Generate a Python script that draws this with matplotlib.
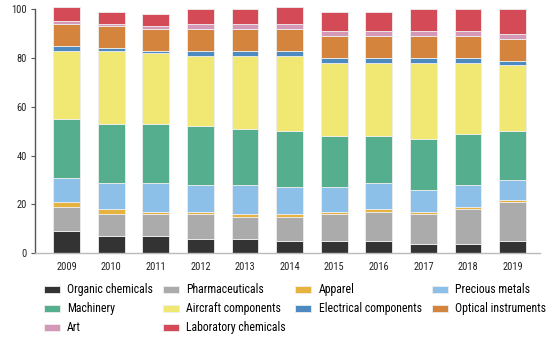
import matplotlib
matplotlib.use("Agg")
import matplotlib.pyplot as plt
import numpy as np
import logging

logging.getLogger("matplotlib.font_manager").setLevel(logging.ERROR)
plt.rcParams['font.family'] = ['Arial Narrow', 'Liberation Sans Narrow', 'Nimbus Sans Narrow',
                               'Roboto Condensed', 'Archivo Narrow', 'PT Sans Narrow',
                               'Liberation Sans', 'DejaVu Sans']

years = ["2009", "2010", "2011", "2012", "2013", "2014", "2015", "2016", "2017", "2018", "2019"]

organic_chemicals = [9, 7, 7, 6, 6, 5, 5, 5, 4, 4, 5]
pharmaceuticals = [10, 9, 9, 10, 9, 10, 11, 12, 12, 14, 16]
apparel = [2, 2, 1, 1, 1, 1, 1, 1, 1, 1, 1]
precious_metals = [10, 11, 12, 11, 12, 11, 10, 11, 9, 9, 8]
machinery = [24, 24, 24, 24, 23, 23, 21, 19, 21, 21, 20]
aircraft_components = [28, 30, 29, 29, 30, 31, 30, 30, 31, 29, 27]
electrical_components = [2, 1, 1, 2, 2, 2, 2, 2, 2, 2, 2]
optical_instruments = [9, 9, 9, 9, 9, 9, 9, 9, 9, 9, 9]
art = [1, 1, 1, 2, 2, 2, 2, 2, 2, 2, 2]
laboratory_chemicals = [6, 5, 5, 6, 6, 7, 8, 8, 9, 9, 10]

series = [
    ("Organic chemicals", organic_chemicals, "#333333"),
    ("Pharmaceuticals", pharmaceuticals, "#ababab"),
    ("Apparel", apparel, "#e6b43e"),
    ("Precious metals", precious_metals, "#8cc0e8"),
    ("Machinery", machinery, "#55ae8e"),
    ("Aircraft components", aircraft_components, "#f0e872"),
    ("Electrical components", electrical_components, "#4d8abf"),
    ("Optical instruments", optical_instruments, "#d4843c"),
    ("Art", art, "#d598b6"),
    ("Laboratory chemicals", laboratory_chemicals, "#d44a56"),
]

fig = plt.figure(figsize=(5.47, 3.39), dpi=100)
ax = fig.add_axes([0.064, 0.2528, 0.923, 0.7198])

x = np.arange(len(years))
bottom = np.zeros(len(years))
handles = {}
for name, vals, color in series:
    vals = np.array(vals, dtype=float)
    bars = ax.bar(x, vals, 0.6, bottom=bottom, color=color, edgecolor="#eeeeee",
                  linewidth=0.6, label=name, clip_on=False, zorder=2)
    handles[name] = bars
    bottom += vals

ax.set_xlim(-0.71, 10.61)
ax.set_ylim(0, 100)
ax.set_yticks([0, 20, 40, 60, 80, 100])
ax.set_xticks(x)
ax.set_xticklabels(years)
ax.tick_params(axis="x", length=0, labelsize=7.5, pad=6, colors="#222222")
ax.tick_params(axis="y", length=3, width=0.8, color="#555555", labelsize=7.5, pad=3, labelcolor="#222222")

for side in ("top", "right"):
    ax.spines[side].set_visible(False)
ax.spines["left"].set_color("#555555")
ax.spines["left"].set_linewidth(1.0)
ax.spines["bottom"].set_color("#bbbbbb")
ax.spines["bottom"].set_linewidth(1.0)

order = ["Organic chemicals", "Machinery", "Art",
         "Pharmaceuticals", "Aircraft components", "Laboratory chemicals",
         "Apparel", "Electrical components",
         "Precious metals", "Optical instruments"]
leg = fig.legend([handles[n] for n in order], order, ncol=4, loc="lower left",
                 bbox_to_anchor=(0.071, 0.0), frameon=False, fontsize=8.5,
                 handlelength=1.36, handleheight=0.55, handletextpad=0.6,
                 columnspacing=0.85, labelspacing=0.5, borderaxespad=0.0)

fig.savefig("out.png", dpi=100)
